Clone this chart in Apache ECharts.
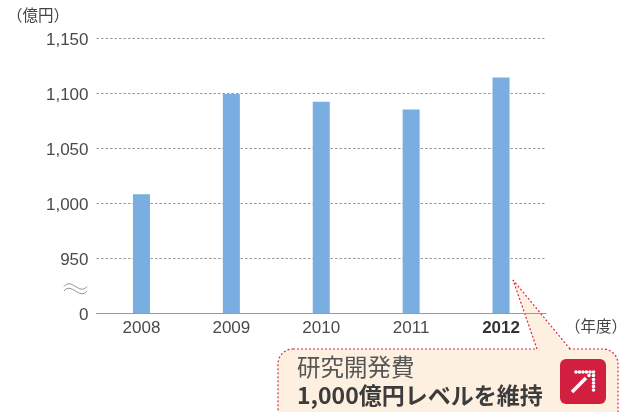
<!DOCTYPE html>
<html>
<head>
<meta charset="utf-8">
<style>html,body{margin:0;padding:0;background:#fff}#c{width:628px;height:412px}</style>
<script src="https://cdn.jsdelivr.net/npm/echarts@6/dist/echarts.min.js"></script>
</head>
<body>
<div id="c"></div>
<script>
var years = ['2008', '2009', '2010', '2011', '2012'];
var values = [1008, 1099, 1092, 1085, 1114];
var yTickValues = [900, 950, 1000, 1050, 1100, 1150];
var yTickLabels = ['0', '950', '1,000', '1,050', '1,100', '1,150'];
var yUnit = '（億円）';
var xUnit = '（年度）';
var noteLine1 = '研究開発費';
var noteLine2 = '1,000億円レベルを維持';

var sans = '"Liberation Sans","Noto Sans CJK JP",sans-serif';
var cjk = '"Noto Sans CJK JP",sans-serif';

var dots = [[576,372],[579.5,372],[583,372],[586.5,372],[590,372],[593.5,372],[593.5,375.5],[589,375.5],[593.5,379.5],[593.5,383],[593.5,386.5],[593.5,390]];
var iconDots = dots.map(function (d) {
  return {type: 'circle', z: 12, shape: {cx: d[0], cy: d[1], r: 1.8}, style: {fill: '#fff'}};
});
function wave(y) {
  return [
    {type: 'bezierCurve', z: 1, shape: {x1: 64, y1: y, cpx1: 68, cpy1: y - 5, cpx2: 72, cpy2: y - 2, x2: 75.5, y2: y}, style: {fill: 'none', stroke: '#777', lineWidth: 0.8}},
    {type: 'bezierCurve', z: 1, shape: {x1: 75.5, y1: y, cpx1: 79, cpy1: y + 2, cpx2: 83, cpy2: y + 5, x2: 87, y2: y}, style: {fill: 'none', stroke: '#777', lineWidth: 0.8}}
  ];
}
var dotLine = {stroke: '#d8284a', lineWidth: 1.2, lineDash: [2, 2]};

var chart = echarts.init(document.getElementById('c'), null, {renderer: 'canvas'});
chart.setOption({
  animation: false,
  grid: {left: 96.5, width: 449.5, top: 38, height: 275},
  xAxis: {
    type: 'category', data: years, z: 5,
    axisLine: {lineStyle: {color: '#9a9a9a', width: 1}},
    axisTick: {show: false},
    axisLabel: {
      margin: 7, fontSize: 17, fontFamily: sans, color: '#4a4a4a',
      formatter: function (v, i) { return i === years.length - 1 ? '{b|' + v + '}' : v; },
      rich: {b: {fontWeight: 'bold', fontSize: 17, fontFamily: sans, color: '#333'}}
    }
  },
  yAxis: {
    type: 'value', min: 900, max: 1150, interval: 50,
    axisLine: {show: false}, axisTick: {show: false},
    axisLabel: {
      margin: 8, fontSize: 17, fontFamily: sans, color: '#4a4a4a',
      verticalAlign: 'top', lineHeight: 4,
      formatter: function (v) { return yTickLabels[yTickValues.indexOf(v)]; }
    },
    splitLine: {lineStyle: {color: '#999', type: [2.5, 2], width: 1}}
  },
  series: [{type: 'bar', data: values, barWidth: 17, itemStyle: {color: '#7aade0'}, z: 2}],
  graphic: [
    {type: 'text', x: 7, y: 7, style: {text: yUnit, font: '15.5px ' + cjk, fill: '#444'}},
    {type: 'text', x: 565, y: 318, style: {text: xUnit, font: '15.5px ' + cjk, fill: '#444'}}
  ].concat(wave(286.5), wave(291), [
    {type: 'rect', z: 1, shape: {x: 278, y: 349, width: 340, height: 90, r: 15},
      style: {fill: '#fdf0e0', stroke: dotLine.stroke, lineWidth: dotLine.lineWidth, lineDash: dotLine.lineDash}},
    {type: 'polygon', z: 1, shape: {points: [[537, 351], [513, 280], [570, 351]]}, style: {fill: '#fdf0e0'}},
    {type: 'line', z: 1, shape: {x1: 537, y1: 349, x2: 513, y2: 280}, style: dotLine},
    {type: 'line', z: 1, shape: {x1: 570, y1: 349, x2: 513, y2: 280}, style: dotLine},
    {type: 'text', z: 10, x: 297, y: 355, style: {text: noteLine1, font: '23.5px ' + cjk, fill: '#555'}},
    {type: 'text', z: 10, x: 297, y: 384, style: {text: noteLine2, font: 'bold 23px ' + cjk, fill: '#3c3c3c'}},
    {type: 'rect', z: 11, shape: {x: 560, y: 359, width: 46, height: 45, r: 6}, style: {fill: '#d21f40'}},
    {type: 'line', z: 12, shape: {x1: 572, y1: 392, x2: 586, y2: 378}, style: {stroke: '#fff', lineWidth: 3.5}}
  ], iconDots)
});
</script>
</body>
</html>
